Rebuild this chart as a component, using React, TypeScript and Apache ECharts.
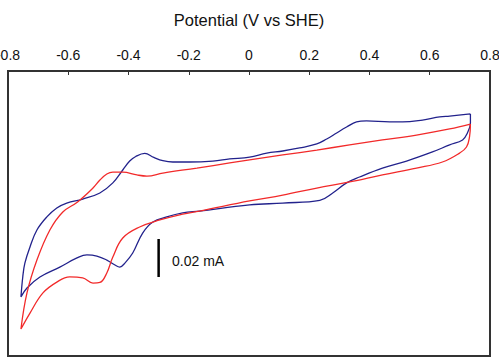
import React, { useEffect, useRef } from "react";
import * as echarts from "echarts";

// Potential (V vs SHE) and current (µA)
const potentialBlue = [
  0.735, 0.666, 0.633, 0.576, 0.51, 0.467, 0.39, 0.357, 0.324, 0.291, 0.258, 0.225, 0.168, 0.112, 0.059, 0.002,
  -0.064, -0.12, -0.197, -0.253, -0.286, -0.316, -0.346, -0.376, -0.396, -0.419, -0.452, -0.495, -0.552,
  -0.605, -0.638, -0.671, -0.704, -0.727, -0.744, -0.751, -0.757,
  -0.737, -0.694, -0.628, -0.571, -0.538, -0.505, -0.472, -0.445, -0.429, -0.412, -0.386, -0.353, -0.319, -0.273,
  -0.22, -0.164, 0.002, 0.112, 0.235, 0.278, 0.324, 0.367, 0.443, 0.523, 0.609, 0.666, 0.709, 0.725, 0.735, 0.735,
];
const currentBlue = [
  52.4, 51.3, 50.8, 49.2, 48.2, 48.2, 48.7, 48.2, 45.5, 42.4, 39.2, 36.6, 34.5, 32.9, 31.8, 29.7,
  28.7, 27.6, 27.1, 27.1, 27.8, 29.5, 31.6, 30.0, 27.6, 22.9, 16.1, 10.8, 7.6,
  5.5, 2.9, -1.8, -8.7, -17.6, -26.1, -33.4, -43.9,
  -39.2, -33.4, -28.2, -23.4, -21.8, -22.4, -24.5, -27.1, -28.2, -26.1, -20.8, -10.3, -4.5, -1.8,
  0.3, 1.3, 4.5, 5.5, 6.9, 10.8, 16.1, 19.2, 23.9, 27.6, 32.4, 36.1, 38.7, 42.4, 47.6, 52.4,
];
const potentialRed = [
  0.735, 0.666, 0.556, 0.443, 0.334, 0.225, 0.112, 0.002, -0.064, -0.173, -0.286, -0.339, -0.372, -0.419, -0.452,
  -0.472, -0.495, -0.518, -0.569, -0.618, -0.661, -0.704, -0.737, -0.757,
  -0.727, -0.684, -0.638, -0.595, -0.552, -0.518, -0.495, -0.472, -0.452, -0.419, -0.363, -0.296, -0.22, -0.164,
  0.002, 0.112, 0.225, 0.334, 0.443, 0.556, 0.642, 0.699, 0.722, 0.732, 0.735,
];
const currentRed = [
  47.1, 44.5, 41.3, 38.7, 36.1, 33.4, 30.8, 28.2, 26.6, 23.9, 21.3, 19.7, 20.3, 21.8, 21.8,
  20.8, 17.6, 13.4, 6.1, 0.8, -8.7, -24.5, -41.8, -60.8,
  -52.4, -41.8, -36.1, -33.4, -33.9, -36.6, -36.3, -31.3, -22.9, -12.9, -7.1, -3.4, -0.3, 1.3,
  6.6, 9.7, 13.4, 16.6, 20.3, 23.9, 27.1, 31.8, 35.0, 40.3, 47.1,
];
const xTicks = { min: -0.8, max: 0.8, interval: 0.2 };
const yRange = { min: -75, max: 75 };
// Scale bar: 20 µA = 0.02 mA
const scaleBarPotential = -0.3;
const scaleBarCurrents = [-13.4, -33.4];
const scaleBarLabel = "0.02 mA";
const axisTitle = "Potential (V vs SHE)";

const zip = (xs: number[], ys: number[]) => xs.map((x, i) => [x, ys[i]]);

export default function App() {
  const ref = useRef<HTMLDivElement>(null);
  useEffect(() => {
    if (!ref.current) return;
    const chart = echarts.init(ref.current, null, { renderer: "svg" });
    const font = "'Liberation Sans', Arial, sans-serif";
    chart.setOption({
      animation: false,
      backgroundColor: "#ffffff",
      textStyle: { fontFamily: font },
      grid: {
        left: 8,
        right: 9,
        top: 71,
        bottom: 3,
        containLabel: false,
        outerBoundsMode: "none",
        show: true,
        borderColor: "#333333",
        borderWidth: 2,
        backgroundColor: "transparent",
      },
      xAxis: {
        type: "value",
        position: "top",
        min: xTicks.min,
        max: xTicks.max,
        interval: xTicks.interval,
        name: axisTitle,
        nameLocation: "middle",
        nameGap: 43,
        nameTextStyle: { fontSize: 16.5, color: "#111", fontFamily: font },
        axisLine: { show: true, onZero: false, lineStyle: { color: "#333", width: 1.5 } },
        axisTick: { show: true, inside: true, length: 4, lineStyle: { color: "#333", width: 1 } },
        axisLabel: {
          show: true,
          margin: 9,
          fontSize: 14,
          color: "#111",
          fontFamily: font,
          showMinLabel: true,
          showMaxLabel: true,
          hideOverlap: false,
          formatter: (v: number) => (Math.abs(v) < 1e-9 ? "0" : String(Math.round(v * 10) / 10)),
        },
        splitLine: { show: false },
      },
      yAxis: {
        type: "value",
        min: yRange.min,
        max: yRange.max,
        show: false,
        splitLine: { show: false },
      },
      series: [
        {
          type: "line",
          data: zip(potentialBlue, currentBlue),
          showSymbol: false,
          smooth: 0.4,
          lineStyle: { color: "#22228c", width: 1.3 },
        },
        {
          type: "line",
          data: zip(potentialRed, currentRed),
          showSymbol: false,
          smooth: 0.4,
          lineStyle: { color: "#f22a2a", width: 1.3 },
        },
        {
          type: "line",
          data: scaleBarCurrents.map((c) => [scaleBarPotential, c]),
          showSymbol: false,
          lineStyle: { color: "#000", width: 2.5 },
        },
      ],
      graphic: [
        {
          type: "text",
          left: 172,
          top: 254,
          style: { text: scaleBarLabel, fontSize: 14, fill: "#111", fontFamily: font },
        },
      ],
    });
    return () => chart.dispose();
  }, []);
  return <div ref={ref} style={{ width: 499, height: 359, position: "absolute", left: 0, top: 0 }} />;
}
